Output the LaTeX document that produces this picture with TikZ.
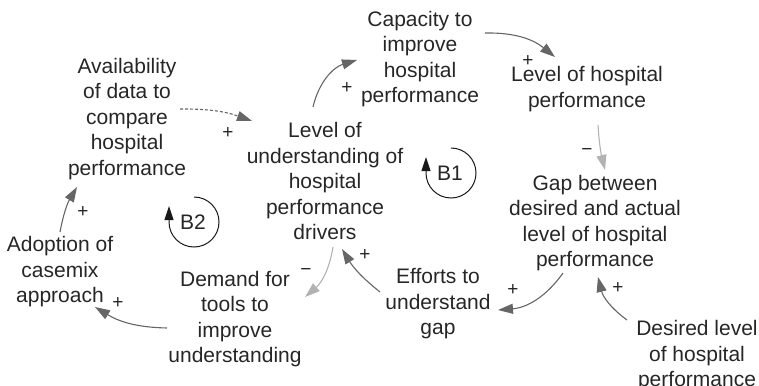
\documentclass[tikz,border=0pt]{standalone}
\usepackage{fontspec}
\setmainfont{Liberation Sans}
\usetikzlibrary{arrows.meta,calc}
\begin{document}
\begin{tikzpicture}[x=1pt,y=1pt,
  var/.style={align=center,font=\fontsize{21}{25.5}\selectfont,inner sep=0pt,text=black!85},
  link/.style={draw=black!60,line width=1.1pt,-{Triangle[length=15pt,width=10pt]}},
  neglink/.style={link,draw=black!30},
  sign/.style={font=\fontsize{19}{20}\selectfont,inner sep=0pt,text=black!85},
  loopring/.style={draw=black!90,line width=1pt,-{Triangle[length=14pt,width=9pt]}},
  looplabel/.style={font=\fontsize{21}{24}\selectfont,inner sep=0pt,text=black!85}]
\useasboundingbox (0,0) rectangle (759,-385);

% variables
\node[var] (avail) at (127,-119) {Availability\\of data to\\compare\\hospital\\performance};
\node[var] (cap)   at (420,-59)  {Capacity to\\improve\\hospital\\performance};
\node[var] (lhp)   at (587,-89)  {Level of hospital\\performance};
\node[var] (lud)   at (325,-181) {Level of\\understanding of\\hospital\\performance\\drivers};
\node[var] (gap)   at (595,-223) {Gap between\\desired and actual\\level of hospital\\performance};
\node[var] (des)   at (697,-356) {Desired level\\of hospital\\performance};
\node[var] (eff)   at (438,-304) {Efforts to\\understand\\gap};
\node[var] (dem)   at (235,-319) {Demand for\\tools to\\improve\\understanding};
\node[var] (adopt) at (60,-272)  {Adoption of\\casemix\\approach};

% causal links
\draw[link,densely dashed] ($(avail)+(53,10)$) to[bend left=10] ($(lud)+(-73,60)$);
\draw[link] ($(lud)+(-12,74)$) to[bend left=30] ($(cap)+(-63,-1)$);
\draw[link] ($(cap)+(65,26)$) to[bend left=20] ($(lhp)+(-32,32)$);
\draw[neglink] ($(lhp)+(11,-36)$) to[bend right=5] ($(gap)+(10,53)$);
\draw[link] ($(gap)+(-32,-50)$) to[bend left=25] ($(eff)+(60,-6)$);
\draw[link] ($(des)+(-70,36)$) to[bend left=20] ($(gap)+(3,-54)$);
\draw[link] ($(eff)+(-58,12)$) to[bend left=10] ($(lud)+(17,-68)$);
\draw[neglink] ($(lud)+(8,-66)$) to[bend left=20] ($(dem)+(70,22)$);
\draw[link] ($(dem)+(-68,-9)$) to[bend left=15] ($(adopt)+(35,-35)$);
\draw[link] ($(adopt)+(0,40)$) to[bend left=10] ($(avail)+(-50,-68)$);

% polarities
\node[sign] (s1)  at (228,-133) {+};
\node[sign] (s2)  at (347,-88)  {+};
\node[sign] (s3)  at (528,-61)  {+};
\node[sign] (s4)  at (587,-152) {−};
\node[sign] (s5)  at (513,-290) {+};
\node[sign] (s6)  at (618,-288) {+};
\node[sign] (s7)  at (365,-255) {+};
\node[sign] (s8)  at (306,-272) {−};
\node[sign] (s9)  at (118,-303) {+};
\node[sign] (s10) at (83,-212)  {+};

% loop markers
\node[looplabel] (b1) at (450,-173) {B1};
\node[looplabel] (b2) at (193,-222) {B2};
\draw[loopring] ($(b1)+(1,25)$) arc[start angle=90,end angle=-180,radius=25] -- ++(0,16);
\draw[loopring] ($(b2)+(1,25)$) arc[start angle=90,end angle=-180,radius=25] -- ++(0,16);
\end{tikzpicture}
\end{document}
